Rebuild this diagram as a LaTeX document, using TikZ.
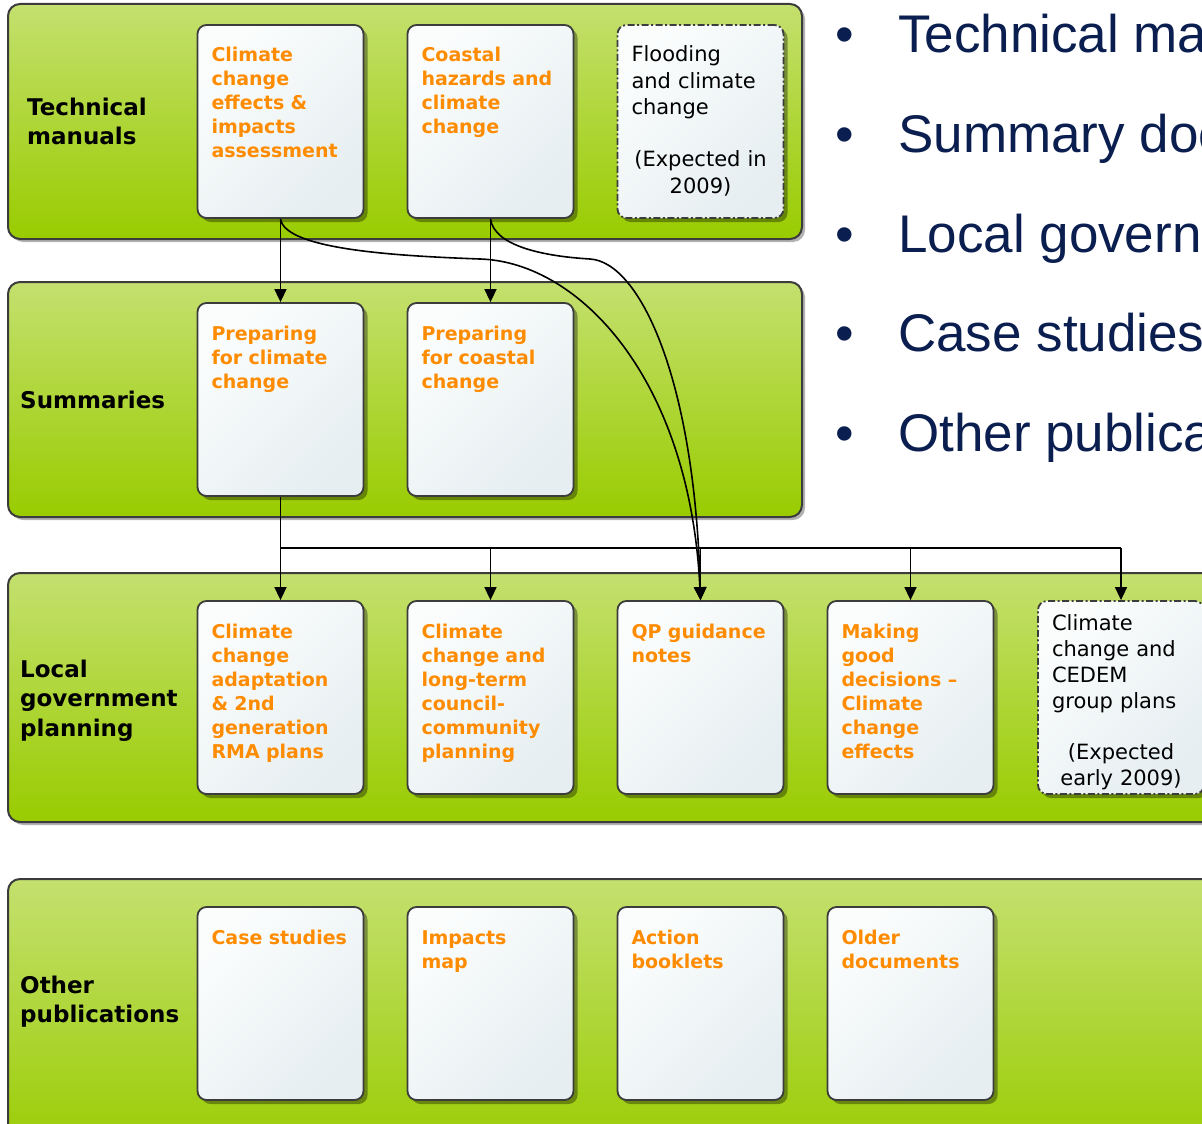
\documentclass[tikz,border=0pt]{standalone}
\usepackage{fontspec}
\setmainfont{DejaVu Sans}
\newfontfamily\bulletfont{Liberation Sans}
\usepackage{tikz}
\usetikzlibrary{arrows.meta,shadows}

\definecolor{bandtop}{HTML}{C4E06F}
\definecolor{bandbot}{HTML}{99CC00}
\definecolor{bandline}{HTML}{3C3C3C}
\definecolor{doctop}{HTML}{FBFDFD}
\definecolor{docbot}{HTML}{E6EEF1}
\definecolor{docorange}{HTML}{FF8C00}
\definecolor{navy}{HTML}{0A1E4F}

\tikzset{
  band/.style={draw=bandline, line width=2pt, rounded corners=12pt,
    top color=bandtop, bottom color=bandbot,
    drop shadow={shadow xshift=3pt,shadow yshift=-3pt,fill=black,opacity=.3}},
  bandlabel/.style={anchor=base west, inner sep=0pt, text width=175pt, align=left,
    font=\bfseries\fontsize{23}{29.5}\selectfont},
  doc/.style={draw=bandline, line width=1.8pt, rounded corners=9pt,
    top color=doctop, bottom color=docbot, shading angle=45,
    minimum width=166pt, minimum height=193pt,
    inner xsep=14pt, inner ysep=23pt, text width=138pt,
    text height=14pt, text depth=133pt, align=left,
    drop shadow={shadow xshift=4pt,shadow yshift=-4pt,fill=black,opacity=.35},
    font=\bfseries\fontsize{19}{24}\selectfont, text=docorange},
  planned/.style={doc, dash pattern=on 7pt off 2.5pt on 2pt off 2.5pt,
    font=\fontsize{21}{26.5}\selectfont, text=black},
  conn/.style={line width=1.6pt, -{Triangle[length=13pt,width=12pt]}},
  bullet/.style={anchor=base west, inner sep=0pt, text=navy,
    font=\bulletfont\fontsize{53}{60}\selectfont}
}

\begin{document}
\begin{tikzpicture}[x=1pt,y=-1pt]
\useasboundingbox (0,0) rectangle (1202,1124);
\clip (0,0) rectangle (1202,1124);

% bands
\node[band, minimum width=794pt, minimum height=235pt] (tmband) at (405,121.5) {};
\node[band, minimum width=794pt, minimum height=235pt] (sumband) at (405,399.5) {};
\node[band, minimum width=1232pt, minimum height=249pt] (lgpband) at (624,697.5) {};
\node[band, minimum width=1232pt, minimum height=281pt] (opband) at (624,1019.5) {};

\node[bandlabel] (tmlabel) at (27,115) {Technical\\manuals};
\node[bandlabel] (sumlabel) at (20,408) {Summaries};
\node[bandlabel] (lgplabel) at (20,677) {Local\\government\\planning};
\node[bandlabel] (oplabel) at (20,993) {Other\\publications};

% technical manuals
\node[doc] (ccia) at (280.5,121.5) {Climate\\change\\effects \&\\impacts\\assessment};
\node[doc] (coastal) at (490.5,121.5) {Coastal\\hazards and\\climate\\change};
\node[planned] (flood) at (700.5,121.5) {Flooding\\and climate\\change\\[25.5pt]
  \makebox[\linewidth]{(Expected in}\\\makebox[\linewidth]{2009)}};

% summaries
\node[doc] (prep1) at (280.5,399.5) {Preparing\\for climate\\change};
\node[doc] (prep2) at (490.5,399.5) {Preparing\\for coastal\\change};

% local government planning
\node[doc] (adapt) at (280.5,697.5) {Climate\\change\\adaptation\\\& 2nd\\generation\\RMA plans};
\node[doc] (ltccp) at (490.5,697.5) {Climate\\change and\\long-term\\council-\\community\\planning};
\node[doc] (qp) at (700.5,697.5) {QP guidance\\notes};
\node[doc] (mgd) at (910.5,697.5) {Making\\good\\decisions --\\Climate\\change\\effects};
\node[planned, font=\fontsize{21}{26}\selectfont, text height=6pt, text depth=141pt]
  (cedem) at (1121,697.5) {Climate\\change and\\CEDEM\\group plans\\[25pt]
  \makebox[\linewidth]{(Expected}\\\makebox[\linewidth]{early 2009)}};

% other publications
\node[doc] (cases) at (280.5,1003.5) {Case studies};
\node[doc] (impacts) at (490.5,1003.5) {Impacts\\map};
\node[doc] (action) at (700.5,1003.5) {Action\\booklets};
\node[doc] (older) at (910.5,1003.5) {Older\\documents};

% connectors
\draw[conn] (ccia.south) -- (prep1.north);
\draw[conn] (coastal.south) -- (prep2.north);
\coordinate (split) at (280.5,548);
\draw[line width=1.6pt] (prep1.south) -- (split) -- (split -| cedem.north);
\foreach \n in {adapt,ltccp,qp,mgd,cedem}
  \draw[conn] (split -| \n.north) -- (\n.north);
\draw[conn] (ccia.south) .. controls (285,250) and (400,256) .. (480,259)
  .. controls (580,262) and (690,380) .. (qp.north);
\draw[conn] (coastal.south) .. controls (494,245) and (540,256) .. (590,259)
  .. controls (640,262) and (695,380) .. (qp.north);

% bullet list
\foreach \t [count=\i] in {Technical manuals,Summary documents,Local government planning,Case studies,Other publications}{
  \node[bullet, anchor=base] (dot\i) at (845,{53+99.5*(\i-1)}) {•};
  \node[bullet] (item\i) at (898,{53+99.5*(\i-1)}) {\t};
}
\end{tikzpicture}
\end{document}
